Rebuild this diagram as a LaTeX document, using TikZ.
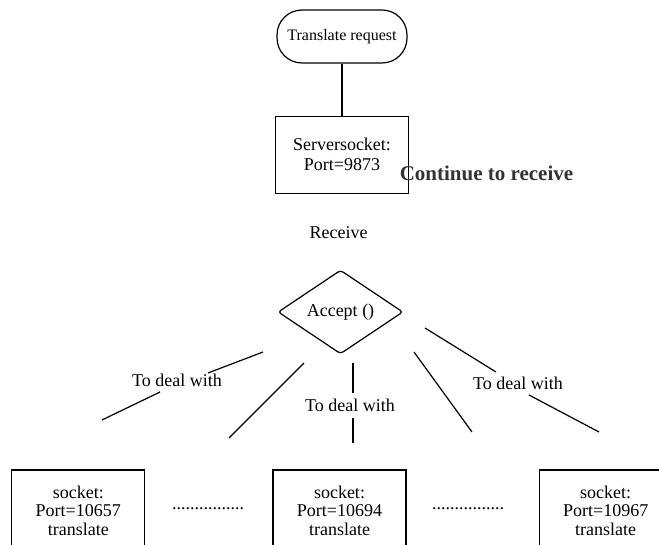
\documentclass[tikz,border=0pt]{standalone}
\usepackage{fontspec}
\setmainfont{Liberation Serif}
\usetikzlibrary{positioning,shapes.geometric}

\begin{document}
\begin{tikzpicture}
 	[x=1pt,y=-1pt,node distance=52pt,
 	term/.style={rectangle,rounded corners=25pt,draw=black,line width=1.2pt,minimum width=130pt,minimum height=53pt,inner sep=0pt,font=\fontsize{16}{18}\selectfont},
 	sbox/.style={rectangle,draw=black,line width=1.2pt,minimum width=133pt,inner sep=0pt,align=center},
 	choice/.style={diamond,draw=black,line width=1.2pt,rounded corners=3pt,minimum width=125pt,minimum height=80pt,inner sep=0pt,font=\fontsize{18}{20}\selectfont},
 	lbl/.style={inner sep=0pt,font=\fontsize{18}{20}\selectfont}]
 \useasboundingbox (0,0) rectangle (659,545);
 \clip (0,0) rectangle (659,545);
 \node (req) [term] at (342,36.5) {Translate request};
 \node (srv) [below=of req] [sbox,minimum height=77pt,font=\fontsize{18}{20}\selectfont] {Serversocket:\\Port=9873};
 \node (cont) [lbl,font=\fontsize{21}{24}\bfseries] at (486.5,173) {\textcolor{black!80}{Continue to receive}};
 \node (recv) [lbl] at (338.5,233) {Receive};
 \node (acc) [choice] at (340.5,312) {Accept ()};
 \node (sock2) [sbox,minimum height=81pt,font=\fontsize{18}{18.5}\selectfont] at (339.5,510.5) {socket:\\Port=10694\\translate};
 \node (sock1) [left=127pt of sock2] [sbox,minimum height=81pt,font=\fontsize{18}{18.5}\selectfont] {socket:\\Port=10657\\translate};
 \node (sock3) [right=132pt of sock2] [sbox,minimum height=81pt,font=\fontsize{18}{18.5}\selectfont] {socket:\\Port=10967\\translate};
 \node (dots1) [lbl,anchor=base] at (208,509) {................};
 \node (dots2) [lbl,anchor=base] at (468,509) {................};
 \node (deal1) [lbl] at (177,380) {To deal with};
 \node (deal2) [lbl] at (350,405) {To deal with};
 \node (deal3) [lbl] at (518,383) {To deal with};
 \coordinate (b1a) at (263,352); \coordinate (b1b) at (208,373);
 \coordinate (b1c) at (160,392); \coordinate (b1d) at (102,420);
 \coordinate (b2a) at (304,363); \coordinate (b2b) at (229,438);
 \coordinate (b3a) at (353,363); \coordinate (b3b) at (353,393);
 \coordinate (b3c) at (353,418); \coordinate (b3d) at (353,443);
 \coordinate (b4a) at (414,352); \coordinate (b4b) at (472,432);
 \coordinate (b5a) at (425,328); \coordinate (b5b) at (496,372);
 \coordinate (b5c) at (529,395); \coordinate (b5d) at (599,432);
 \draw[-,line width=1.2pt] (req) -- (srv);
 \foreach \from/\to in {b1a/b1b, b1c/b1d, b2a/b2b, b3a/b3b, b3c/b3d, b4a/b4b, b5a/b5b, b5c/b5d}
 \draw[-,line width=1.2pt] (\from) -- (\to);
 \end{tikzpicture}
\end{document}
